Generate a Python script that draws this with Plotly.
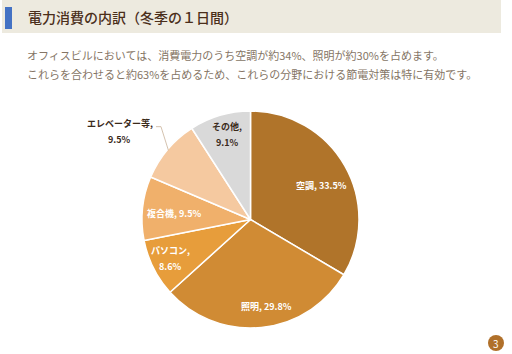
import math
import plotly.graph_objects as go

# ---- data ----
categories = ["空調", "照明", "パソコン", "複合機", "エレベーター等", "その他"]
values = [33.5, 29.8, 8.6, 9.5, 9.5, 9.1]
label_texts = ["空調, 33.5%", "照明, 29.8%", "パソコン,<br>8.6%", "複合機, 9.5%",
               "エレベーター等,<br>9.5%", "その他,<br>9.1%"]
colors = ["#B0742A", "#D08B34", "#E79D3B", "#F0B06B", "#F5C9A0", "#D9D9D9"]
title_text = "電力消費の内訳（冬季の１日間）"
subtitle_lines = ["オフィスビルにおいては、消費電力のうち空調が約34%、照明が約30%を占めます。",
                  "これらを合わせると約63%を占めるため、これらの分野における節電対策は特に有効です。"]
page_no = "3"

W, H = 512, 354
FONT = "Noto Sans CJK JP"

# pie geometry (pixels)
cx, cy, R = 250.5, 219.5, 108.5

def px(x):
    return x / W

def py(y):
    return 1 - y / H

fig = go.Figure()
fig.add_trace(go.Pie(
    labels=categories, values=values, sort=False, direction="clockwise", rotation=0,
    marker=dict(colors=colors, line=dict(color="white", width=1.5)),
    textinfo="none", hoverinfo="skip", showlegend=False,
    domain=dict(x=[px(cx - R), px(cx + R)], y=[py(cy + R), py(cy - R)]),
))

# label placement (style): radial fraction and angular nudge
label_r = [0.72, 0.81, 0.82, 0.70, 1.45, 0.81]
label_dtheta = [4.3, -4.4, 0.5, -1.3, -6.2, 0.9]
label_color = ["white", "white", "white", "white", "#3A2A1A", "#3A2A1A"]
LINE_GAP = 16

total = sum(values)
cum = 0.0
annotations = []
shapes = []
for i, v in enumerate(values):
    mid = (cum + v / 2) / total * 360.0
    cum += v
    ang = math.radians(mid + label_dtheta[i])
    lx = cx + label_r[i] * R * math.sin(ang)
    ly = cy - label_r[i] * R * math.cos(ang)
    parts = label_texts[i].split("<br>")
    n = len(parts)
    for k, part in enumerate(parts):
        yy = ly + (k - (n - 1) / 2) * LINE_GAP
        annotations.append(dict(
            x=px(lx), y=py(yy), xref="paper", yref="paper", text=part,
            showarrow=False, align="center", xanchor="center", yanchor="middle",
            font=dict(family=FONT, size=9, color=label_color[i], weight="bold"),
        ))
    if label_r[i] > 1:
        # leader line from label to slice edge
        m = math.radians(mid)
        ex = cx + 0.99 * R * math.sin(m)
        ey = cy - 0.99 * R * math.cos(m)
        sx, sy = lx + 36, ly - 5
        shapes.append(dict(
            type="path", xref="paper", yref="paper",
            path=f"M {px(sx)} {py(sy)} L {px(sx + 5)} {py(sy)} L {px(ex)} {py(ey)}",
            line=dict(color="#C9B29A", width=0.8),
        ))

# header band
shapes.append(dict(type="rect", xref="paper", yref="paper",
                   x0=px(2), x1=px(501), y0=py(33), y1=py(0),
                   fillcolor="#EDEADF", line=dict(width=0), layer="below"))
shapes.append(dict(type="rect", xref="paper", yref="paper",
                   x0=px(5), x1=px(12), y0=py(29), y1=py(7),
                   fillcolor="#4472C4", line=dict(width=0)))
# page number circle
shapes.append(dict(type="circle", xref="paper", yref="paper",
                   x0=px(488), x1=px(504), y0=py(351), y1=py(335),
                   fillcolor="#B0702A", line=dict(width=0)))

annotations.append(dict(x=px(26), y=py(17), xref="paper", yref="paper",
                        xanchor="left", yanchor="middle", showarrow=False,
                        text=title_text,
                        font=dict(family=FONT, size=14, color="#4A2E1A", weight=500)))
for j, line in enumerate(subtitle_lines):
    annotations.append(dict(x=px(25), y=py(55 + 19 * j), xref="paper", yref="paper",
                            xanchor="left", yanchor="middle", showarrow=False,
                            text=line,
                            font=dict(family=FONT, size=11, color="#857565")))
annotations.append(dict(x=px(496), y=py(343), xref="paper", yref="paper",
                        xanchor="center", yanchor="middle", showarrow=False,
                        text=page_no, font=dict(family=FONT, size=10, color="white")))

fig.update_layout(
    width=W, height=H, margin=dict(l=0, r=0, t=0, b=0),
    paper_bgcolor="white", plot_bgcolor="white",
    annotations=annotations, shapes=shapes,
)
fig.write_html("out.html")
